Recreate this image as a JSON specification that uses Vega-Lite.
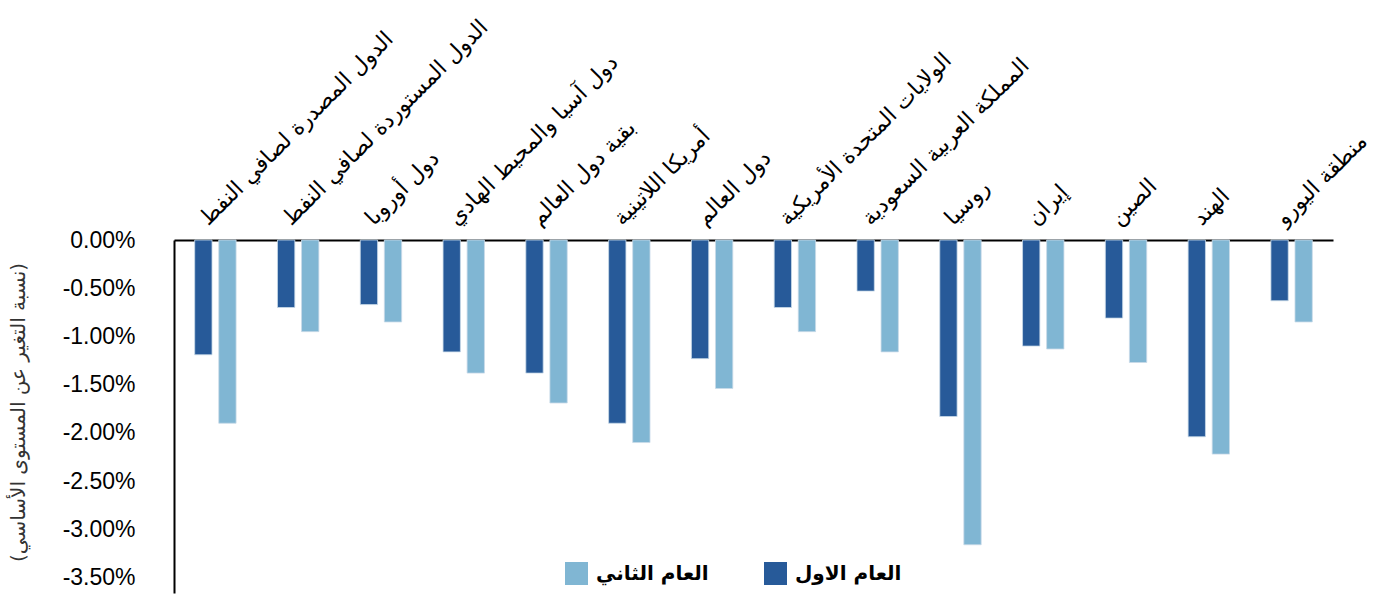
{
  "$schema": "https://vega.github.io/schema/vega-lite/v6.json",
  "width": 1159,
  "height": 353,
  "autosize": {"type": "none"},
  "padding": {"left": 174, "top": 240, "right": 48, "bottom": 2},
  "background": "white",
  "config": {"view": {"stroke": null}},
  "data": {
    "values": [
      {"region": "الدول المصدرة لصافي النفط", "series": "العام الاول", "value": -0.0119},
      {"region": "الدول المصدرة لصافي النفط", "series": "العام الثاني", "value": -0.0190},
      {"region": "الدول المستوردة لصافي النفط", "series": "العام الاول", "value": -0.0070},
      {"region": "الدول المستوردة لصافي النفط", "series": "العام الثاني", "value": -0.0095},
      {"region": "دول أوروبا", "series": "العام الاول", "value": -0.0067},
      {"region": "دول أوروبا", "series": "العام الثاني", "value": -0.0085},
      {"region": "دول آسيا والمحيط الهادي", "series": "العام الاول", "value": -0.0116},
      {"region": "دول آسيا والمحيط الهادي", "series": "العام الثاني", "value": -0.0138},
      {"region": "بقية دول العالم", "series": "العام الاول", "value": -0.0138},
      {"region": "بقية دول العالم", "series": "العام الثاني", "value": -0.0169},
      {"region": "أمريكا اللاتينية", "series": "العام الاول", "value": -0.0190},
      {"region": "أمريكا اللاتينية", "series": "العام الثاني", "value": -0.0210},
      {"region": "دول العالم", "series": "العام الاول", "value": -0.0123},
      {"region": "دول العالم", "series": "العام الثاني", "value": -0.0154},
      {"region": "الولايات المتحدة الأمريكية", "series": "العام الاول", "value": -0.0070},
      {"region": "الولايات المتحدة الأمريكية", "series": "العام الثاني", "value": -0.0095},
      {"region": "المملكة العربية السعودية", "series": "العام الاول", "value": -0.0053},
      {"region": "المملكة العربية السعودية", "series": "العام الثاني", "value": -0.0116},
      {"region": "روسيا", "series": "العام الاول", "value": -0.0183},
      {"region": "روسيا", "series": "العام الثاني", "value": -0.0316},
      {"region": "إيران", "series": "العام الاول", "value": -0.0110},
      {"region": "إيران", "series": "العام الثاني", "value": -0.0113},
      {"region": "الصين", "series": "العام الاول", "value": -0.0081},
      {"region": "الصين", "series": "العام الثاني", "value": -0.0127},
      {"region": "الهند", "series": "العام الاول", "value": -0.0204},
      {"region": "الهند", "series": "العام الثاني", "value": -0.0222},
      {"region": "منطقة اليورو", "series": "العام الاول", "value": -0.0063},
      {"region": "منطقة اليورو", "series": "العام الثاني", "value": -0.0085}
    ]
  },
  "mark": {"type": "bar", "stroke": "#c9dbe9", "strokeWidth": 0.8},
  "encoding": {
    "x": {
      "field": "region",
      "type": "nominal",
      "sort": null,
      "scale": {"paddingInner": 0.5, "paddingOuter": 0.25},
      "axis": {
        "orient": "top",
        "title": null,
        "labelAngle": -45,
        "labelAlign": "left",
        "labelBaseline": "middle",
        "labelPadding": 19,
        "labelOffset": -12,
        "labelFont": "DejaVu Sans",
        "labelFontSize": 22,
        "labelColor": "#000000",
        "labelLimit": 500,
        "ticks": false,
        "domainColor": "#000000",
        "domainWidth": 2
      }
    },
    "xOffset": {
      "field": "series",
      "type": "nominal",
      "scale": {"domain": ["العام الاول", "العام الثاني"], "paddingInner": 0.28, "paddingOuter": 0}
    },
    "y": {
      "field": "value",
      "type": "quantitative",
      "scale": {"domain": [-0.0366, 0], "nice": false, "zero": false},
      "axis": {
        "title": "(نسبة التغير عن المستوى الأساسي)",
        "titleFont": "DejaVu Sans",
        "titleFontSize": 20,
        "titleFontWeight": "normal",
        "titleColor": "#333333",
        "titleX": -156,
        "titleY": 172,
        "titleBaseline": "middle",
        "titleAngle": -90,
        "values": [0, -0.005, -0.01, -0.015, -0.02, -0.025, -0.03, -0.035],
        "labelExpr": "replace(format(datum.value, '.2%'), '\u2212', '-')",
        "labelFont": "Liberation Sans",
        "labelFontSize": 23,
        "labelColor": "#000000",
        "labelPadding": 39,
        "ticks": false,
        "grid": false,
        "domainColor": "#000000",
        "domainWidth": 2
      }
    },
    "color": {
      "field": "series",
      "type": "nominal",
      "scale": {"domain": ["العام الثاني", "العام الاول"], "range": ["#80b6d3", "#275a99"]},
      "legend": {
        "orient": "none",
        "direction": "horizontal",
        "legendX": 391,
        "legendY": 322,
        "title": null,
        "symbolType": "square",
        "symbolSize": 529,
        "symbolStrokeWidth": 0,
        "symbolOpacity": 1,
        "labelFont": "DejaVu Sans",
        "labelFontSize": 20,
        "labelFontWeight": "bold",
        "labelColor": "#000000",
        "labelOffset": 8,
        "columnPadding": 55,
        "labelLimit": 300
      }
    }
  }
}
